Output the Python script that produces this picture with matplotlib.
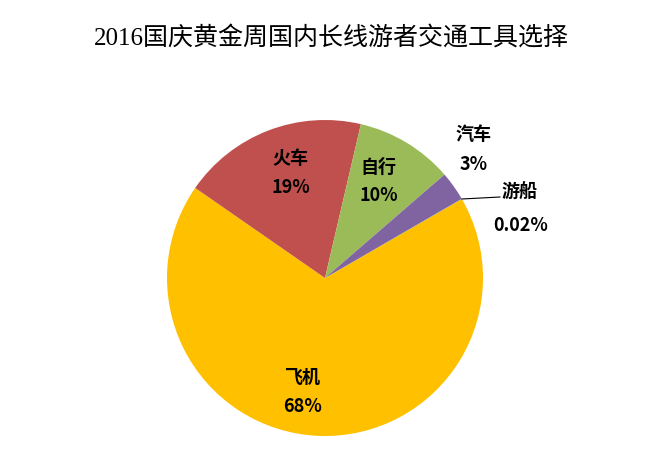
import numpy as np
import matplotlib
matplotlib.use("Agg")
import matplotlib.pyplot as plt

plt.rcParams['font.family'] = ['Noto Sans CJK SC', 'DejaVu Sans']

title = "2016国庆黄金周国内长线游者交通工具选择"
categories = ["飞机", "火车", "自行", "汽车", "游船"]
values = [68, 19, 10, 3, 0.02]
pct_labels = ["68%", "19%", "10%", "3%", "0.02%"]
colors = ["#FFC000", "#C0504D", "#9BBB59", "#8064A2", "#4BACC6"]

W, H = 662, 450
fig = plt.figure(figsize=(W / 100, H / 100), dpi=100)
cx, cy, R = 325, 278, 158
ax = fig.add_axes([(cx - R) / W, (H - cy - R) / H, 2 * R / W, 2 * R / H])
wedges, _ = ax.pie(values, colors=colors, startangle=30, counterclock=False,
                   radius=1.0, wedgeprops=dict(linewidth=0))
ax.set_xlim(-1, 1)
ax.set_ylim(-1, 1)
ax.set_aspect('auto')
ax.axis('off')

def mid_angle(w):
    return np.deg2rad((w.theta1 + w.theta2) / 2)

fs = 13
# inside labels: (radius, angular offset in radians)
inside = {0: (0.735, -0.155), 1: (0.70, -0.052), 2: (0.70, 0.035)}
for i, (r, off) in inside.items():
    a = mid_angle(wedges[i]) + off
    x, y = r * np.cos(a), r * np.sin(a)
    ax.text(x, y + 0.09, categories[i], ha='center', va='center', fontsize=fs, fontweight='bold')
    ax.text(x, y - 0.09, pct_labels[i], ha='center', va='center', fontsize=fs, fontweight='bold')

# 汽车 outside
a = mid_angle(wedges[3])
x, y = 1.22 * np.cos(a), 1.22 * np.sin(a)
ax.text(x - 0.055, y + 0.20, categories[3], ha='center', va='center', fontsize=fs, fontweight='bold')
ax.text(x - 0.055, y + 0.01, pct_labels[3], ha='center', va='center', fontsize=fs, fontweight='bold')

# 游船 with leader
a = np.deg2rad(wedges[4].theta1)
px, py = np.cos(a), np.sin(a)
lx, ly = (500 - cx) / R, (cy - 197) / R
ax.plot([px, lx], [py, ly], color='black', lw=0.8, clip_on=False)
ax.text(lx + 0.01, ly + 0.03, categories[4], ha='left', va='center', fontsize=fs, fontweight='bold')
ax.text(lx + 0.13, ly - 0.18, pct_labels[4], ha='center', va='center', fontsize=fs, fontweight='bold')

fig.text(0.5, 1 - 38 / H, title, ha='center', va='center', fontsize=18,
         family=['Liberation Serif', 'Noto Sans CJK SC'])

fig.savefig("out.png", dpi=100)
